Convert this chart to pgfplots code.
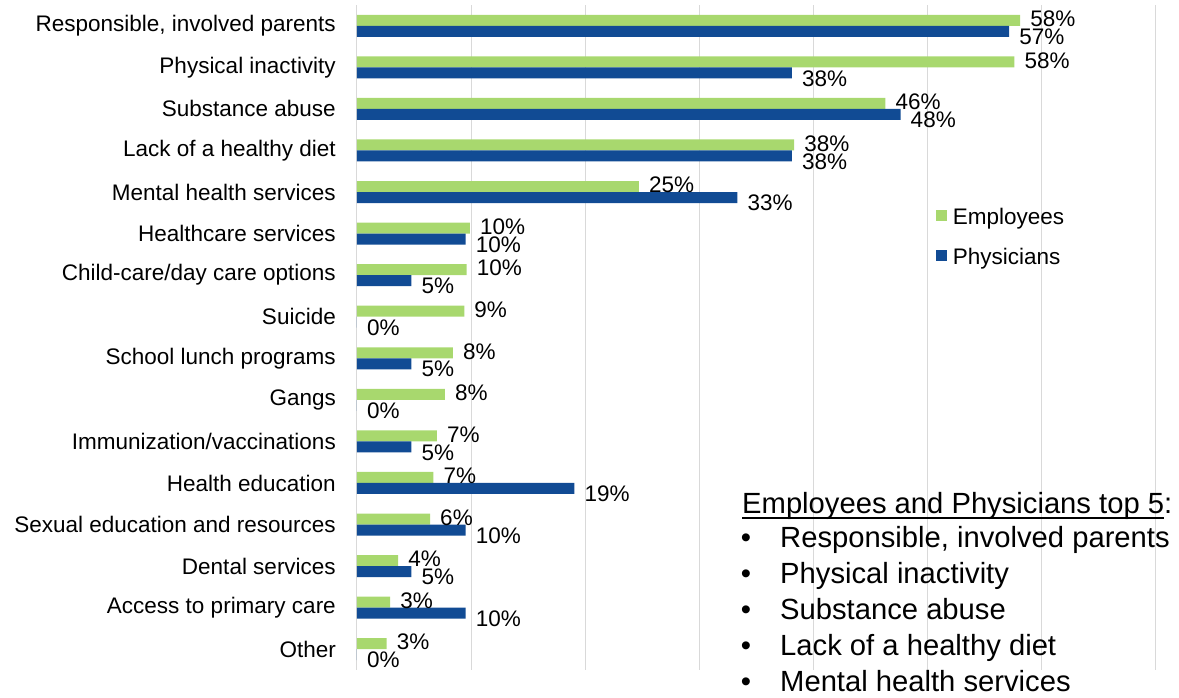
\documentclass[border=0pt]{standalone}
\usepackage{fontspec}
\setmainfont{Liberation Sans}
\usepackage{pgfplots}
\pgfplotsset{compat=1.18}
\definecolor{empgreen}{RGB}{168,216,110}
\definecolor{phyblue}{RGB}{17,75,148}
\definecolor{gridgray}{RGB}{217,217,217}
\newcommand{\chartfont}{\fontsize{22.5}{27}\selectfont}
\newcommand{\boxfont}{\fontsize{29.2}{35}\selectfont}
\newcommand{\ul}[1]{\setbox0\hbox{#1}\rlap{\rule[-5pt]{\wd0}{1.6pt}}\box0}
\begin{document}
\begin{tikzpicture}[font=\chartfont]
\useasboundingbox (-357pt,-28pt) rectangle (822pt,670pt);
\begin{axis}[
  at={(0pt,0pt)}, anchor=south west,
  scale only axis, width=799pt, height=665pt,
  xbar, bar width=11pt,
  xmin=0, xmax=70, ymin=-0.5, ymax=15.5,
  xtick={0,10,...,70}, xticklabels={},
  xmajorgrids, grid style={gridgray, line width=1pt},
  axis line style={draw=none},
  major tick length=0pt,
  ytick={0,...,15},
  yticklabels={Other, Access to primary care, Dental services, Sexual education and resources, Health education, Immunization/vaccinations, Gangs, School lunch programs, Suicide, Child-care/day care options, Healthcare services, Mental health services, Lack of a healthy diet, Substance abuse, Physical inactivity, {Responsible, involved parents}},
  y tick label style={font=\chartfont, anchor=east, inner sep=0pt, xshift=-21pt},
  nodes near coords={\pgfmathprintnumber[fixed,precision=0,assume math mode=true]{\pgfplotspointmeta}\%},
  point meta=x,
  every node near coord/.append style={font=\chartfont, anchor=west, inner sep=0pt, xshift=10pt, text=black},
  legend style={draw=none, fill=none, font=\chartfont, at={(0.7243,0.695)}, anchor=north west,
    row sep=22pt, column sep=6pt, inner sep=0pt, nodes={inner sep=0pt}},
  legend cell align=left,
  legend image code/.code={\fill[#1] (0pt,-4.5pt) rectangle (11pt,6.5pt);},
]
\addplot[fill=empgreen, draw=none, bar shift=5.5pt,
  every node near coord/.append style={yshift=1.5pt}] coordinates {
  (58.1,15) (57.6,14) (46.3,13) (38.3,12) (24.7,11) (9.9,10) (9.6,9) (9.4,8)
  (8.4,7) (7.7,6) (7.0,5) (6.7,4) (6.4,3) (3.6,2) (2.9,1) (2.6,0)};
\addlegendentry{Employees}
\addplot[fill=phyblue, draw=none, bar shift=-5.5pt,
  every node near coord/.append style={yshift=-5.5pt}] coordinates {
  (57.14,15) (38.1,14) (47.62,13) (38.1,12) (33.33,11) (9.52,10) (4.76,9) (0,8)
  (4.76,7) (0,6) (4.76,5) (19.05,4) (9.52,3) (4.76,2) (9.52,1) (0,0)};
\addlegendentry{Physicians}
\end{axis}
\node[anchor=base west, inner sep=0pt, font=\boxfont] at (385pt,156pt) {\ul{Employees and Physicians top 5}:};
\foreach \y/\t in {122/{Responsible, involved parents}, 86/{Physical inactivity}, 50/{Substance abuse}, 14/{Lack of a healthy diet}, -22/{Mental health services}}{
  \node[anchor=base, inner sep=0pt, font=\boxfont] at (389pt,\y pt) {\textbullet};
  \node[anchor=base west, inner sep=0pt, font=\boxfont] at (423pt,\y pt) {\t};
}
\end{tikzpicture}
\end{document}
